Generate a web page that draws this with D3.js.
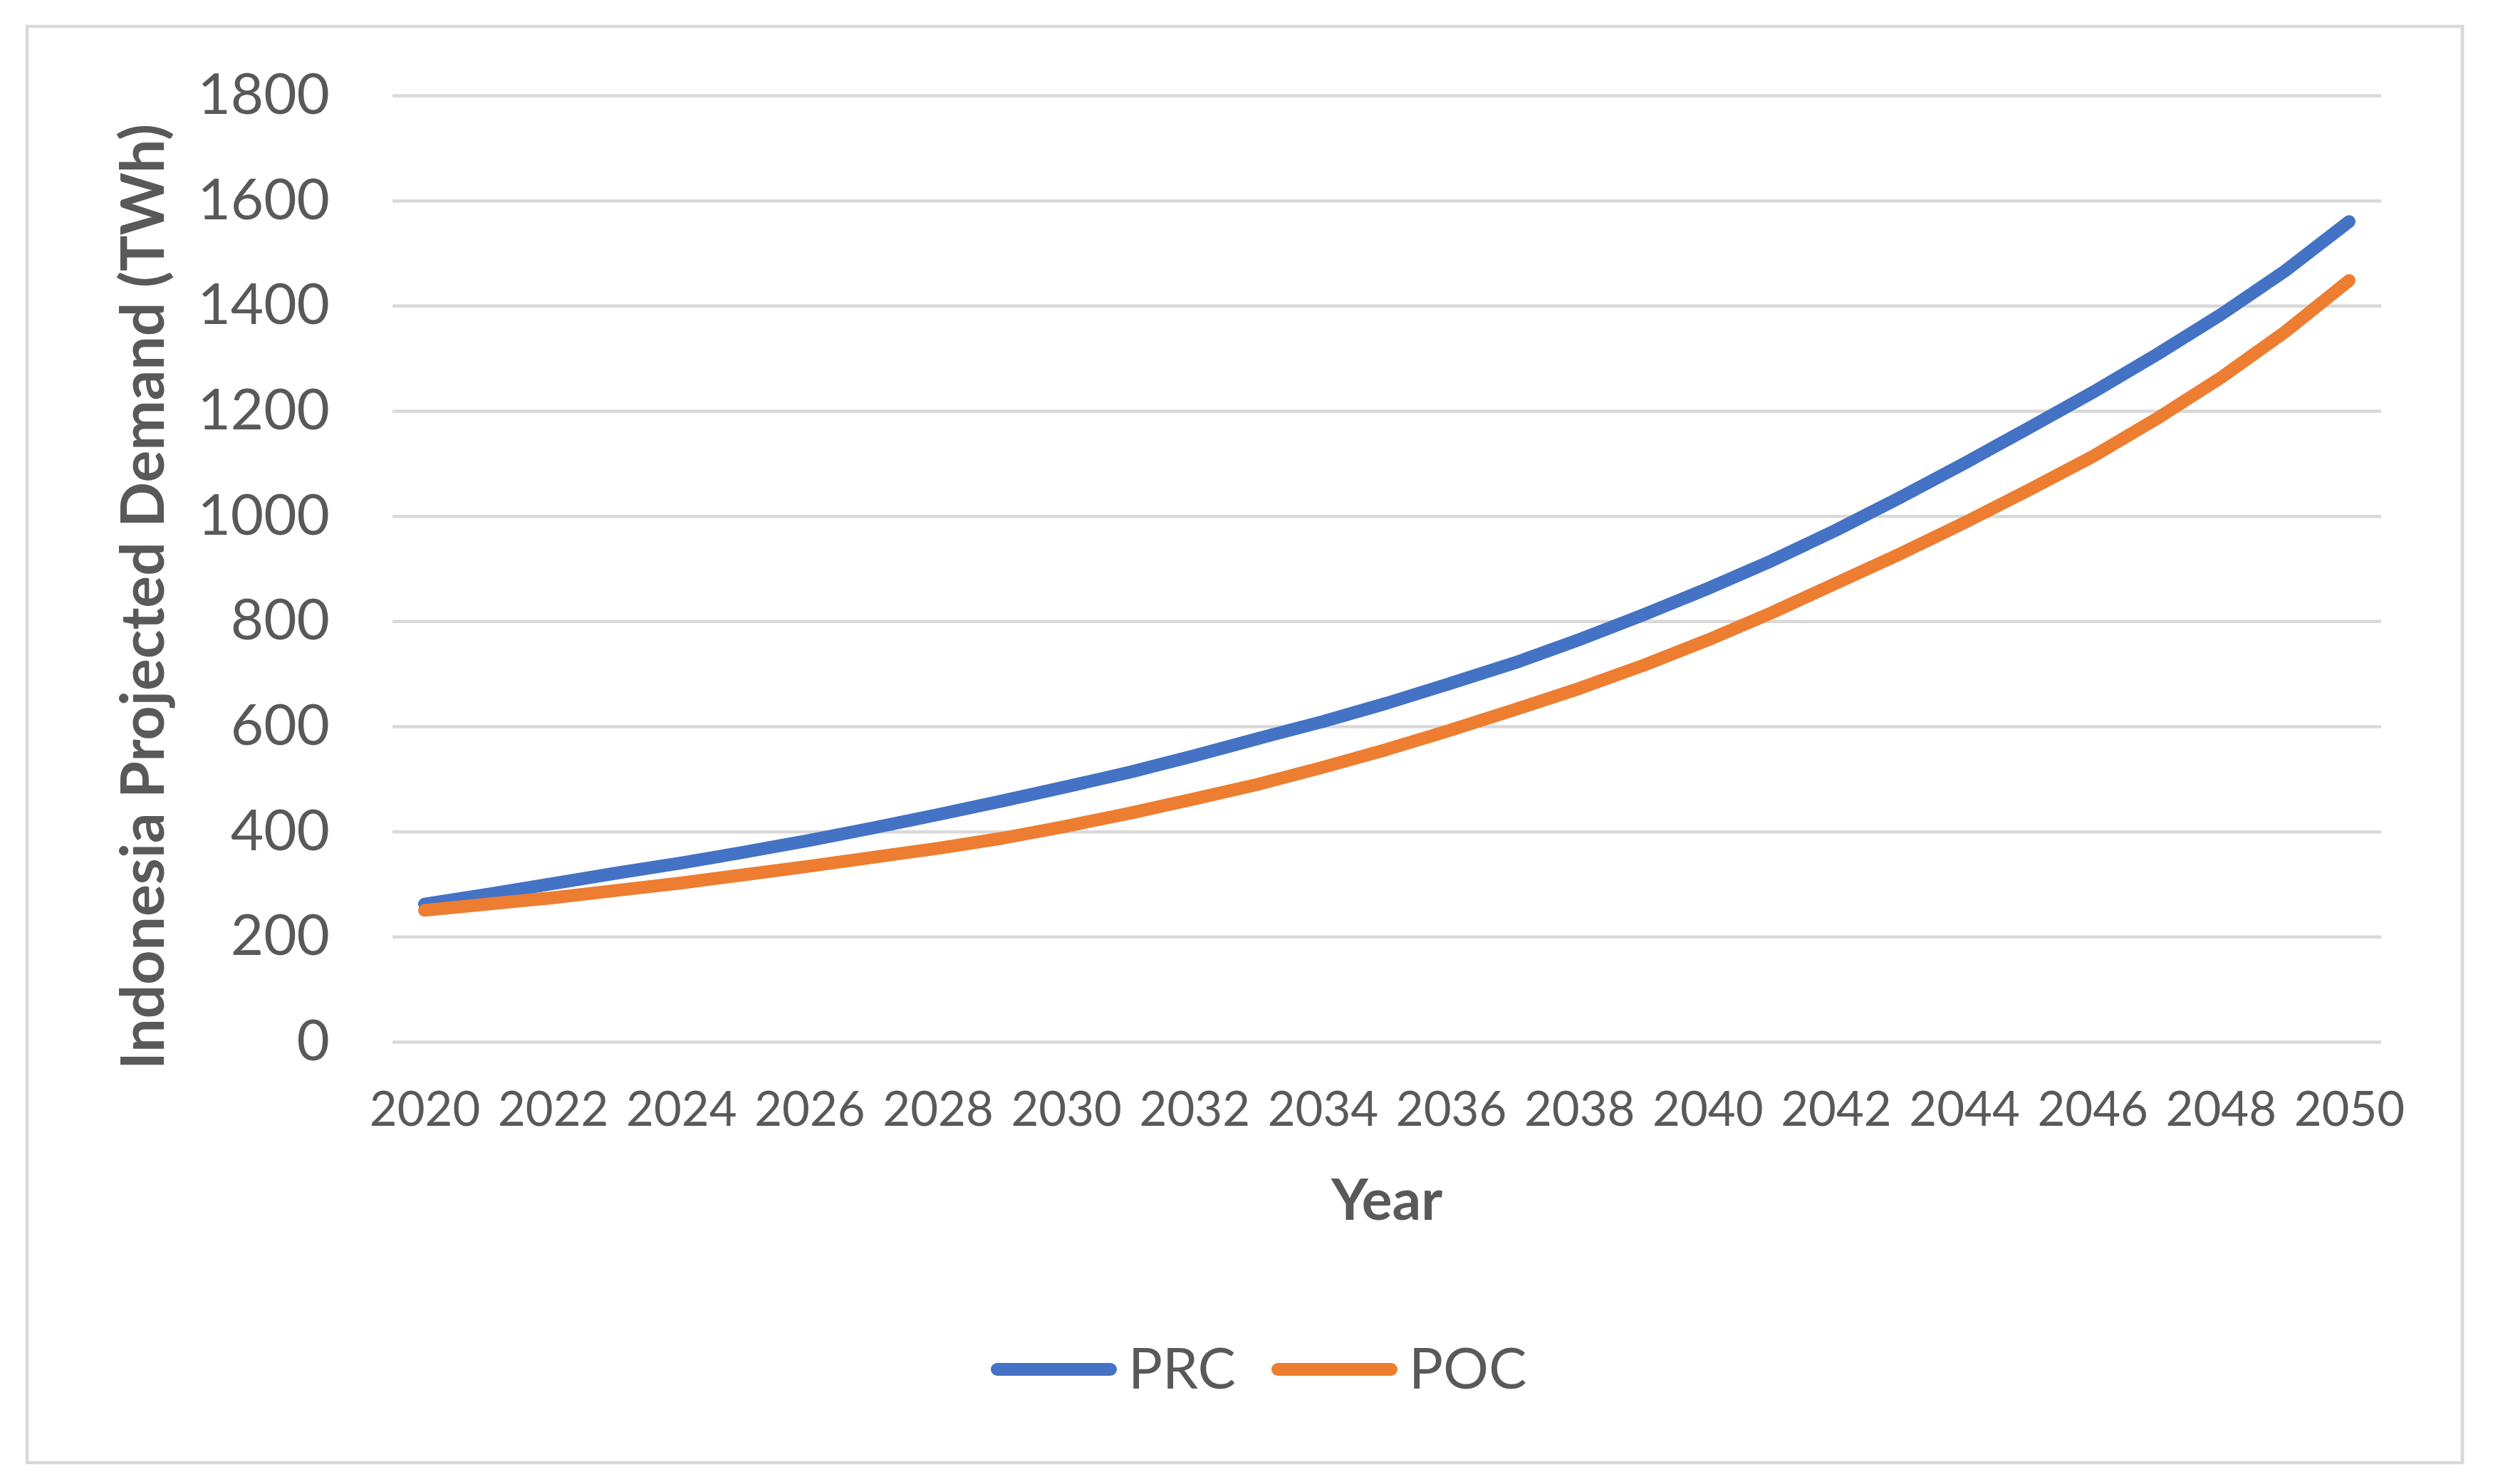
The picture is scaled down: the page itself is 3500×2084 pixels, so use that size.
<!DOCTYPE html>
<html>
<head>
<meta charset="utf-8">
<script src="https://cdn.jsdelivr.net/npm/d3@7"></script>
<style>
  body { margin: 0; background: #fff; }
  text { font-family: Lato, "Open Sans", sans-serif; fill: #595959; }
</style>
</head>
<body>
<div id="chart"></div>
<script>
// data
var years = d3.range(2020, 2051);
var prc = [262, 281, 301, 321, 340, 361, 383, 407, 432, 458,
           485, 513, 544, 577, 609, 644, 682, 721, 765, 812,
           862, 915, 973, 1035, 1100, 1167, 1235, 1307, 1383, 1466,
           1560];
var poc = [250, 262, 274, 288, 302, 318, 334, 351, 368, 387,
           410, 435, 462, 490, 522, 556, 593, 632, 672, 716,
           764, 816, 872, 928, 987, 1049, 1113, 1185, 1263, 1350,
           1448];
var seriesNames = ["PRC", "POC"];
var seriesColors = ["#4472C4", "#ED7D31"];
var yTicks = [0, 200, 400, 600, 800, 1000, 1200, 1400, 1600, 1800];
var xTickYears = years.filter(function(d) { return d % 2 === 0; });

var W = 3500, H = 2084;
var plotLeft = 551, plotRight = 3343, plotTop = 134, plotBottom = 1463;

var svg = d3.select("#chart").append("svg")
  .attr("width", W)
  .attr("height", H);

svg.append("rect")
  .attr("width", W).attr("height", H)
  .attr("fill", "#fff");

// outer chart border
svg.append("rect")
  .attr("x", 38).attr("y", 37)
  .attr("width", 3457 - 38).attr("height", 2054 - 37)
  .attr("fill", "none")
  .attr("stroke", "#d9d9d9")
  .attr("stroke-width", 4.5);

var x = d3.scalePoint().domain(years).range([plotLeft, plotRight]).padding(0.5);
var y = d3.scaleLinear().domain([0, 1800]).range([plotBottom, plotTop]);

// y axis + gridlines
var yAxis = d3.axisLeft(y)
  .tickValues(yTicks)
  .tickFormat(d3.format("d"))
  .tickSize(-(plotRight - plotLeft))
  .tickPadding(88);

var gy = svg.append("g")
  .attr("transform", "translate(" + plotLeft + ",0)")
  .call(yAxis);
gy.select(".domain").remove();
gy.selectAll(".tick line")
  .attr("stroke", "#d9d9d9")
  .attr("stroke-width", 4.5);
gy.selectAll(".tick text")
  .attr("font-size", 80)
  .attr("fill", "#595959")
  .style("font-family", "Lato, 'Open Sans', sans-serif");

// x axis labels
var xAxis = d3.axisBottom(x)
  .tickValues(xTickYears)
  .tickFormat(d3.format("d"))
  .tickSize(0)
  .tickPadding(70);

var gx = svg.append("g")
  .attr("transform", "translate(0," + plotBottom + ")")
  .call(xAxis);
gx.select(".domain").remove();
gx.selectAll(".tick text")
  .attr("font-size", 67)
  .attr("fill", "#595959")
  .style("font-family", "Lato, 'Open Sans', sans-serif");

// series lines
var line = d3.line()
  .x(function(d, i) { return x(years[i]); })
  .y(function(d) { return y(d); });

[prc, poc].forEach(function(vals, k) {
  svg.append("path")
    .attr("fill", "none")
    .attr("stroke", seriesColors[k])
    .attr("stroke-width", 18)
    .attr("stroke-linecap", "round")
    .attr("stroke-linejoin", "round")
    .attr("d", line(vals));
});

// axis titles
svg.append("text")
  .attr("transform", "translate(230,838) rotate(-90)")
  .attr("text-anchor", "middle")
  .attr("font-size", 84)
  .attr("font-weight", "bold")
  .text("Indonesia Projected Demand (TWh)");

svg.append("text")
  .attr("x", (plotLeft + plotRight) / 2)
  .attr("y", 1713)
  .attr("text-anchor", "middle")
  .attr("font-size", 80)
  .attr("font-weight", "bold")
  .text("Year");

// legend
var legendX = [1400, 1794];
seriesNames.forEach(function(name, k) {
  var g = svg.append("g").attr("transform", "translate(" + legendX[k] + ",1923)");
  g.append("line")
    .attr("x1", 0).attr("x2", 159)
    .attr("y1", 0).attr("y2", 0)
    .attr("stroke", seriesColors[k])
    .attr("stroke-width", 18)
    .attr("stroke-linecap", "round");
  g.append("text")
    .attr("x", 184)
    .attr("y", 27)
    .attr("font-size", 80)
    .text(name);
});
</script>
</body>
</html>
